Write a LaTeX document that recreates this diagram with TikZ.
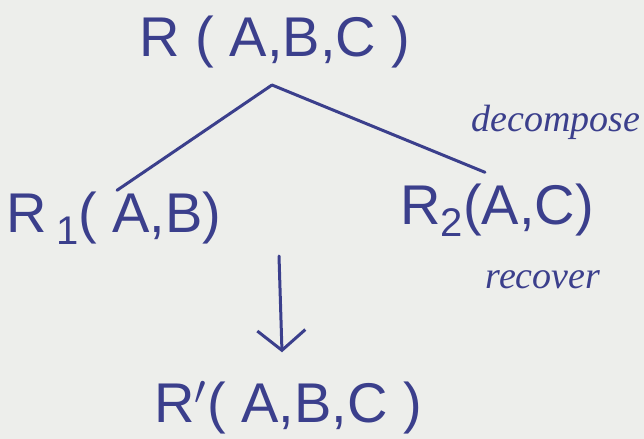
\documentclass[tikz,border=0pt]{standalone}
\usepackage{fontspec}
\setmainfont{Liberation Sans}
\newfontfamily\notefont{Liberation Serif}
\usepackage{xcolor}
\usetikzlibrary{arrows.meta,positioning,calc}
\definecolor{ink}{HTML}{3B3F8C}
\definecolor{sheet}{HTML}{EDEEEB}
\newcommand{\lowidx}[1]{\raisebox{-6pt}{\fontsize{20}{20}\selectfont #1}}
\tikzset{
  rel/.style={text=ink, inner sep=2pt, font=\fontsize{28}{30}\selectfont},
  note/.style={text=ink, inner sep=1pt, font=\notefont\itshape\fontsize{19}{21}\selectfont},
  stroke/.style={draw=ink, line width=1.5pt, line cap=round},
  down/.style={stroke, -{Straight Barb[length=10pt, width=24pt]}},
}
\begin{document}
\begin{tikzpicture}[x=0.5pt, y=-0.5pt]
\fill[sheet] (0,0) rectangle (644,439);
\useasboundingbox (0,0) rectangle (644,439);
% relations
\node[rel] (R) at (275,42) {R ( A,B,C )};
\node[rel] (R1) at (114,218) {R\,\lowidx{1}( A,B)};
\node[rel] (R2) at (497,210) {R\lowidx{2}(A,C)};
\node[rel] (Rp) at (288,408) {R$'$( A,B,C )};
% labels
\node[note] (dec) at (556,122) {decompose};
\node[note] (rec) at (543,280) {recover};
% split + arrow
\coordinate (split) at (272,85);
\coordinate (top) at (279,256);
\draw[stroke] (split) -- ($(R1.north)+(3,3)$);
\draw[stroke] (split) -- ($(R2.north)+(-12,-7)$);
\draw[down] (top) -- ($(Rp.north)+(-6,-25)$);
\end{tikzpicture}
\end{document}
